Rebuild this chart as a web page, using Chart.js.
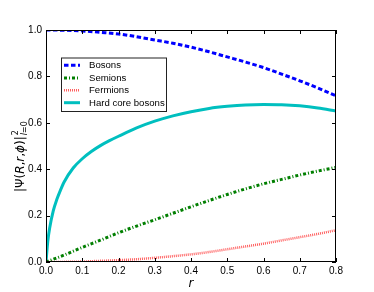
<!DOCTYPE html>
<html>
<head>
<meta charset="utf-8">
<script src="https://cdn.jsdelivr.net/npm/chart.js@4/dist/chart.umd.min.js"></script>
<style>
html,body{margin:0;padding:0;background:#fff;}
canvas{display:block;}
</style>
</head>
<body>
<canvas id="c" width="374" height="292"></canvas>
<script>
// ---- data ----
const rGrid = [0, 0.05, 0.1, 0.15, 0.2, 0.25, 0.3, 0.35, 0.4, 0.45, 0.5, 0.55, 0.6, 0.65, 0.7, 0.75, 0.8];
const bosons = [1.0, 0.999, 0.996, 0.990, 0.983, 0.971, 0.957, 0.943, 0.926, 0.906, 0.884, 0.862, 0.838, 0.810, 0.781, 0.750, 0.716];
const semions = [0, 0.030, 0.063, 0.094, 0.126, 0.155, 0.182, 0.210, 0.238, 0.265, 0.291, 0.315, 0.337, 0.356, 0.375, 0.392, 0.408];
const fermions = [0, 0.0005, 0.002, 0.005, 0.008, 0.012, 0.018, 0.025, 0.033, 0.043, 0.055, 0.067, 0.079, 0.093, 0.107, 0.121, 0.137];
const rHard = [0, 0.005, 0.01, 0.02, 0.03, 0.04, 0.05, 0.075, 0.1, 0.125, 0.15, 0.175, 0.2, 0.25, 0.3, 0.35, 0.4, 0.45, 0.5, 0.55, 0.6, 0.65, 0.7, 0.75, 0.8];
const hardCore = [0, 0.09, 0.145, 0.22, 0.27, 0.31, 0.345, 0.405, 0.445, 0.476, 0.5015, 0.523, 0.542, 0.578, 0.607, 0.630, 0.648, 0.662, 0.671, 0.677, 0.679, 0.678, 0.673, 0.664, 0.651];
const seriesNames = ["Bosons", "Semions", "Fermions", "Hard core bosons"];
const xTicks = [0, 0.1, 0.2, 0.3, 0.4, 0.5, 0.6, 0.7, 0.8];
const yTicks = [0, 0.2, 0.4, 0.6, 0.8, 1.0];

const pts = (xs, ys) => xs.map((x, i) => ({x: x, y: ys[i]}));

const styles = [
  {color: '#0000ff', dash: [4.5, 2.5], width: 3},
  {color: '#007f00', dash: [3, 2, 1, 2], width: 3},
  {color: 'rgba(255,40,40,0.75)', dash: [1, 1], width: 2.5},
  {color: '#00bfbf', dash: [], width: 3}
];

const framePlugin = {
  id: 'frame',
  afterDraw(chart) {
    const ctx = chart.ctx;
    const a = chart.chartArea;
    const xs = chart.scales.x, ys = chart.scales.y;
    ctx.save();
    ctx.strokeStyle = '#000';
    ctx.lineWidth = 1;
    ctx.setLineDash([]);
    ctx.strokeRect(Math.round(a.left) + 0.5, Math.round(a.top) + 0.5,
                   Math.round(a.right - a.left) - 1, Math.round(a.bottom - a.top) - 1);
    ctx.beginPath();
    xTicks.forEach(v => {
      const px = Math.round(xs.getPixelForValue(v)) + 0.5;
      ctx.moveTo(px, a.bottom); ctx.lineTo(px, a.bottom - 4);
      ctx.moveTo(px, a.top); ctx.lineTo(px, a.top + 4);
    });
    yTicks.forEach(v => {
      const py = Math.round(ys.getPixelForValue(v)) + 0.5;
      ctx.moveTo(a.left, py); ctx.lineTo(a.left + 4, py);
      ctx.moveTo(a.right, py); ctx.lineTo(a.right - 4, py);
    });
    ctx.stroke();

    // legend
    const lx = 61, ly = 57.5, lw = 105, lh = 53.5;
    ctx.fillStyle = '#fff';
    ctx.fillRect(lx, ly, lw, lh);
    ctx.strokeStyle = '#222';
    ctx.strokeRect(lx + 0.5, ly + 0.5, lw, lh);
    const rows = [65.3, 78, 90.3, 102.7];
    ctx.font = '9.6px "Liberation Sans", Arial, sans-serif';
    ctx.textBaseline = 'middle';
    ctx.textAlign = 'left';
    seriesNames.forEach((name, i) => {
      const s = styles[i];
      ctx.beginPath();
      ctx.strokeStyle = s.color;
      ctx.lineWidth = s.width;
      ctx.setLineDash(s.dash);
      ctx.moveTo(64, rows[i]); ctx.lineTo(80, rows[i]);
      ctx.stroke();
      ctx.setLineDash([]);
      ctx.fillStyle = '#000';
      ctx.fillText(name, 89, rows[i] + 0.5);
    });

    // y label  |Ψ(R,r,ϕ)|²_{l=0}
    ctx.save();
    ctx.translate(20, 192);
    ctx.rotate(-Math.PI / 2);
    ctx.fillStyle = '#000';
    ctx.textBaseline = 'alphabetic';
    const up = '12px "DejaVu Sans"';
    const it = 'italic 12px "DejaVu Sans"';
    const pieces = [['|Ψ(', up], ['R', it], [',', up], ['r', it], [',', up], ['ϕ', it], [')|', up]];
    let x = 0;
    const base = 4;
    pieces.forEach(([t, f]) => {
      ctx.font = f;
      ctx.fillText(t, x, base);
      x += ctx.measureText(t).width;
    });
    ctx.font = '8px "DejaVu Sans"';
    ctx.fillText('2', x + 1, -2);
    ctx.font = 'italic 8px "DejaVu Sans"';
    ctx.fillText('l', x + 1, 7);
    let x2 = x + 1 + ctx.measureText('l').width;
    ctx.font = '8px "DejaVu Sans"';
    ctx.fillText('=0', x2, 7);
    ctx.restore();
    ctx.restore();
  }
};

const datasets = [
  {data: pts(rGrid, bosons)},
  {data: pts(rGrid, semions)},
  {data: pts(rGrid, fermions)},
  {data: pts(rHard, hardCore)}
].map((d, i) => Object.assign(d, {
  label: seriesNames[i],
  borderColor: styles[i].color,
  borderWidth: styles[i].width,
  borderDash: styles[i].dash,
  pointRadius: 0,
  fill: false,
  cubicInterpolationMode: 'monotone',
  borderCapStyle: 'butt'
}));

new Chart(document.getElementById('c'), {
  type: 'line',
  data: {datasets: datasets},
  options: {
    responsive: false,
    animation: false,
    devicePixelRatio: 1,
    layout: {padding: {left: 0, right: 38, top: 30, bottom: 0}},
    plugins: {legend: {display: false}, tooltip: {enabled: false}},
    scales: {
      x: {
        type: 'linear', min: 0, max: 0.8,
        afterBuildTicks: s => { s.ticks = xTicks.map(v => ({value: v})); },
        afterFit: s => { s.height = 30; },
        grid: {display: false, drawTicks: false},
        border: {display: false},
        ticks: {padding: 3, color: '#000', font: {family: '"Liberation Sans", Arial, sans-serif', size: 10},
                callback: v => Number(v).toFixed(1), maxRotation: 0, autoSkip: false},
        title: {display: true, text: 'r', color: '#000', padding: {top: 0, bottom: 1},
                font: {family: '"DejaVu Sans"', size: 12, style: 'italic'}}
      },
      y: {
        type: 'linear', min: 0, max: 1,
        afterBuildTicks: s => { s.ticks = yTicks.map(v => ({value: v})); },
        afterFit: s => { s.width = 46; },
        grid: {display: false, drawTicks: false},
        border: {display: false},
        ticks: {padding: 4, color: '#000', font: {family: '"Liberation Sans", Arial, sans-serif', size: 10},
                callback: v => Number(v).toFixed(1), autoSkip: false}
      }
    }
  },
  plugins: [framePlugin]
});
</script>
</body>
</html>
